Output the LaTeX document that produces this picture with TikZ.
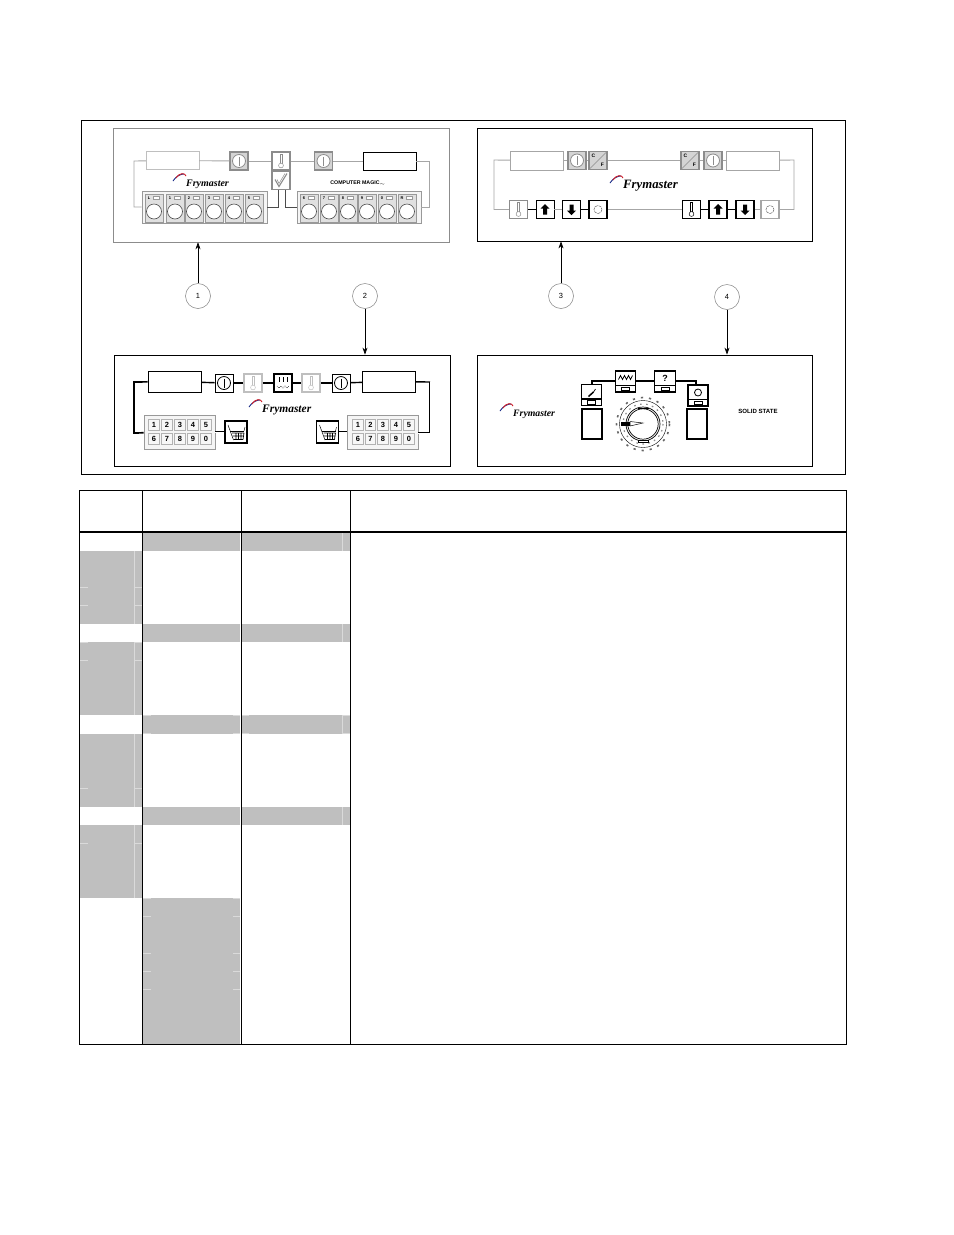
\documentclass[tikz,border=0pt]{standalone}
\usepackage{fontspec}
\setmainfont{Liberation Sans}
\newfontfamily\logofont{Liberation Serif}
\usetikzlibrary{shapes,arrows,arrows.meta,positioning}

\definecolor{TableGray}{HTML}{BFBFBF}
\definecolor{TickGray}{HTML}{DADADA}
\definecolor{WireGray}{HTML}{A6A6A6}
\definecolor{KeyGray}{HTML}{D4D4D4}
\definecolor{SwooshRed}{HTML}{D0202A}
\definecolor{SwooshBlue}{HTML}{20308A}

\tikzset{
	Power/.style={path picture={
		\draw[shift={(path picture bounding box.center)}, fill=white, line width=0.8] (0,0) circle (6.5);
		\draw[shift={(path picture bounding box.center)}, line width=0.8] (0,-4.5) -- (0,4.5);}},
	Thermo/.style={path picture={
		\draw[shift={(path picture bounding box.center)}, line width=0.5, fill=white] (-1,3) -- (-1,-7) -- (1,-7) -- (1,3);
		\draw[shift={(path picture bounding box.center)}, line width=0.5, fill=white] (0,4.5) circle (2.4);}},
	Check/.style={path picture={
		\draw[shift={(path picture bounding box.center)}, line width=1.1] (-6,-1) -- (-2,6) -- (6,-7);
		\draw[shift={(path picture bounding box.center)}, line width=0.5] (-4,-1) -- (-2,3) -- (4,-7);}},
	CF/.style={path picture={
		\draw[shift={(path picture bounding box.center)}, line width=0.6] (-8,8) -- (8,-8);
		\path[shift={(path picture bounding box.center)}] (-4.5,-4.5) node[font=\fontsize{5}{5}\selectfont\bfseries, inner sep=0pt] {C};
		\path[shift={(path picture bounding box.center)}] (4.5,4.5) node[font=\fontsize{5}{5}\selectfont\bfseries, inner sep=0pt] {F};}},
	UpMark/.style={path picture={
		\fill[shift={(path picture bounding box.center)}, black] (0,-5.5) -- (4.5,-1) -- (2,-1) -- (2,5) -- (-2,5) -- (-2,-1) -- (-4.5,-1) -- cycle;}},
	DownMark/.style={path picture={
		\fill[shift={(path picture bounding box.center)}, black] (0,5.5) -- (4.5,1) -- (2,1) -- (2,-5) -- (-2,-5) -- (-2,1) -- (-4.5,1) -- cycle;}},
	Cycle/.style={path picture={
		\draw[shift={(path picture bounding box.center)}, line width=0.5, black!60, dash pattern=on 3pt off 0.8pt] (0,0) circle (4);}},
	Melt/.style={path picture={
		\draw[shift={(path picture bounding box.center)}, line width=0.7] (-4,-6) -- (-4,-1) (0,-6) -- (0,-1) (4,-6) -- (4,-1);
		\draw[shift={(path picture bounding box.center)}, line width=0.6, densely dotted] (-6,3) -- (-4,5) -- (-2,3) -- (0,5) -- (2,3) -- (4,5) -- (6,3);}},
	Basket/.style={path picture={
		\draw[shift={(path picture bounding box.center)}, xscale=#1, line width=0.5] (-8,-7) -- (-2.5,8);
		\draw[shift={(path picture bounding box.center)}, xscale=#1, line width=0.5] (-6,-1) -- (8,-1);
		\draw[shift={(path picture bounding box.center)}, xscale=#1, line width=0.7] (-4,1) -- (8,1) (-3.5,4) -- (7.5,4) (-2.5,7.5) -- (7,7.5) (8,1) -- (7,7.5) (0,1) -- (0,7.5) (2.5,1) -- (2.5,7.5) (5,1) -- (5,7.5);
		\draw[shift={(path picture bounding box.center)}, xscale=#1, line width=0.4] (8,-1) -- (9,-5);}},
	Lamp/.style={path picture={
		\draw[shift={(path picture bounding box.center)}, line width=1.2] (-11,4) -- (11,4);
		\draw[shift={(path picture bounding box.center)}, line width=0.9, fill=white] (-4,5.5) rectangle (4,9);
		#1}}
}

\begin{document}
\begin{tikzpicture}[x=1bp, y=-1bp]
	\tikzstyle{Frame}	= [draw, line width=0.8, minimum height=0pt, inner sep=0pt]
	\tikzstyle{Display}	= [rectangle, draw, fill=white, inner sep=0pt, minimum width=53bp, minimum height=18bp]
	\tikzstyle{Key}		= [rectangle, draw=black!45, line width=1.2, fill=KeyGray, inner sep=0pt, minimum size=18bp]
	\tikzstyle{Bold}	= [draw=black, line width=1.6, fill=white]
	\tikzstyle{Plain}	= [draw=black, line width=0.8, fill=white]
	\tikzstyle{Wire}	= [WireGray, line width=0.9]
	\tikzstyle{BlackWire}	= [black, line width=1.4]
	\tikzstyle{DoubleWire}	= [white, line width=0.9, preaction={draw=black, line width=2.4}]
	\tikzstyle{Pad}		= [rectangle, draw=black!40, line width=0.7, fill=black!4, inner sep=0pt]
	\tikzstyle{Cell}	= [rectangle, draw=black!40, line width=0.5, fill=black!12, inner sep=0pt, minimum width=18bp, minimum height=28bp]
	\tikzstyle{Push}	= [circle, draw=black!70, line width=0.6, fill=white, inner sep=0pt, minimum size=15bp]
	\tikzstyle{Num}		= [rectangle, draw=black!30, line width=0.6, fill=black!3, inner sep=0pt, minimum size=10.5bp, font=\fontsize{7.5}{8}\selectfont\bfseries]
	\tikzstyle{Tiny}	= [inner sep=0pt, font=\fontsize{4}{4}\selectfont\bfseries]
	\tikzstyle{Logo}	= [anchor=west, inner sep=0pt, font=\logofont\fontsize{10}{10}\selectfont\bfseries\itshape]
	\tikzstyle{Callout}	= [circle, draw=gray, line width=0.5, fill=white, inner sep=0pt, minimum size=25bp, font=\fontsize{7.5}{8}\selectfont]
	\tikzstyle{Lead}	= [-{Stealth[length=7bp,width=5bp]}, black, line width=0.6]
	\tikzstyle{Solid}	= [rectangle, draw=black, line width=1.7, fill=white, inner sep=0pt]
	\tikzstyle{Cover}	= [TableGray]
	\tikzstyle{Tick}	= [TickGray, line width=0.7]
	\tikzstyle{Rule}	= [black, line width=1.1]

	\useasboundingbox (0,0) rectangle (954,1235);
	\fill[white] (0,0) rectangle (954,1235);

	% outer frame and the four panels
	\node (frame) at (463,297) [Frame, minimum width=764bp, minimum height=354bp] {};
	\node (panelA) at (281,185) [Frame, draw=black!45, line width=0.6, minimum width=336bp, minimum height=114bp] {};
	\node (panelB) at (282,410.5) [Frame, minimum width=336bp, minimum height=111bp] {};
	\node (panelC) at (644.5,184.5) [Frame, minimum width=335bp, minimum height=113bp] {};
	\node (panelD) at (644.5,410.5) [Frame, minimum width=335bp, minimum height=111bp] {};

	% panel 1
	\node (dispA1) at (172.5,160.5) [Display, draw=TableGray] {};
	\node (dispA2) at (389.5,161) [Display, line width=0.8] {};
	\node (powA1) at (239,161) [Key, Power] {};
	\node (powA2) at (323.5,161) [Key, Power] {};
	\node (therA) at (281,161) [Key, fill=white, Thermo] {};
	\node (checkA) at (281,180.5) [Key, fill=white, Check] {};
	\node (padA1) at (204.5,207) [Pad, minimum width=125bp, minimum height=32bp] {};
	\node (padA2) at (359,207) [Pad, minimum width=124bp, minimum height=32bp] {};
	\foreach \x/\t [count=\i] in {154/L,175/1,194/2,214/3,234/4,254/5} {
		\node (cellA\i) at (\x,208) [Cell] {};
		\node (pushA\i) at (\x,211.5) [Push] {};
		\node (numA\i) at (\x-5,198) [Tiny] {\t};
		\node (lampA\i) at (\x+2,198) [Pad, fill=white, minimum width=6bp, minimum height=3bp] {};
	}
	\foreach \x/\t [count=\i] in {309/6,329/7,348/8,367/9,387/0,407/R} {
		\node (cellB\i) at (\x,208) [Cell] {};
		\node (pushB\i) at (\x,211.5) [Push] {};
		\node (numB\i) at (\x-5,198) [Tiny] {\t};
		\node (lampB\i) at (\x+2,198) [Pad, fill=white, minimum width=6bp, minimum height=3bp] {};
	}
	\coordinate (cornA1) at (134,161);
	\coordinate (cornA2) at (134,207);
	\coordinate (cornA3) at (429,161);
	\coordinate (cornA4) at (429,207);
	\coordinate (dropA1) at (278,207);
	\coordinate (dropA2) at (285,207);
	\draw [Wire] (dispA1) -- (powA1);
	\draw [Wire] (powA1) -- (therA);
	\draw [Wire] (therA) -- (powA2);
	\draw [Wire] (powA2) -- (dispA2);
	\draw [Wire] (dispA1) -- (cornA1) -- (cornA2) -- (padA1);
	\draw [Wire] (dispA2) -- (cornA3) -- (cornA4) -- (padA2);
	\draw [Wire, black!70] (checkA.south -| dropA1) -- (dropA1) -- (padA1.east |- dropA1);
	\draw [Wire, black!70] (checkA.south -| dropA2) -- (dropA2) -- (padA2.west |- dropA2);
	\node (logoA) at (186,184) [Logo] {Frymaster};
	\node (magicA) at (358,183) [inner sep=0pt, font=\fontsize{5.3}{6}\selectfont\bfseries] {COMPUTER MAGIC$_{\scriptscriptstyle\sim}$};

	% panel 2
	\node (dispB1) at (174.5,381.5) [Display, line width=0.9, minimum height=21bp] {};
	\node (dispB2) at (389,381.5) [Display, line width=0.9, minimum height=21bp] {};
	\node (powB1) at (224,383) [Key, Plain, Power] {};
	\node (therB1) at (253,383) [Key, draw=TableGray, line width=2, fill=white, Thermo] {};
	\node (meltB) at (283,383) [Key, Bold, Melt] {};
	\node (therB2) at (311,383) [Key, draw=TableGray, line width=2, fill=white, Thermo] {};
	\node (powB2) at (341,383) [Key, Plain, Power] {};
	\node (padB1) at (179.5,432) [Pad, minimum width=71bp, minimum height=34bp] {};
	\node (padB2) at (382.5,432) [Pad, minimum width=71bp, minimum height=34bp] {};
	\foreach \x [count=\i] in {154,167,180,193,206} {
		\node (numC\i) at (\x,425) [Num] {\i};
	}
	\foreach \x/\t [count=\i] in {154/6,167/7,180/8,193/9,206/0} {
		\node (numD\i) at (\x,439) [Num] {\t};
	}
	\foreach \x [count=\i] in {358,370.5,383,396,409} {
		\node (numE\i) at (\x,425) [Num] {\i};
	}
	\foreach \x/\t [count=\i] in {358/6,370.5/7,383/8,396/9,409/0} {
		\node (numF\i) at (\x,439) [Num] {\t};
	}
	\node (basketB1) at (236,432) [Solid, minimum size=22bp, Basket=1] {};
	\node (basketB2) at (327.5,432) [Solid, minimum size=22bp, Basket=-1] {};
	\coordinate (cornB1) at (134,382);
	\coordinate (cornB2) at (134,433);
	\coordinate (cornB3) at (430,382);
	\coordinate (cornB4) at (430,433);
	\draw [BlackWire] (dispB1) -- (powB1);
	\draw [BlackWire] (powB1) -- (therB1);
	\draw [BlackWire] (therB1) -- (meltB);
	\draw [BlackWire] (meltB) -- (therB2);
	\draw [BlackWire] (therB2) -- (powB2);
	\draw [BlackWire] (powB2) -- (dispB2);
	\draw [BlackWire, line width=1.7] (dispB1) -- (cornB1) -- (cornB2) -- (padB1);
	\draw [BlackWire] (dispB2) -- (cornB3);
	\draw [DoubleWire] (cornB3) -- (cornB4) -- (padB2.east |- cornB4);
	\draw [DoubleWire] (padB1.east |- basketB1) -- (basketB1.west);
	\draw [DoubleWire] (basketB2.east) -- (padB2.west |- basketB2);
	\node (logoB) at (262,410) [Logo, font=\logofont\fontsize{11.5}{11}\selectfont\bfseries\itshape] {Frymaster};

	% panel 3
	\node (dispC1) at (537,160.5) [Display, draw=WireGray, minimum height=19bp] {};
	\node (dispC2) at (753,160.5) [Display, draw=WireGray, minimum height=19bp] {};
	\node (powC1) at (577,160.5) [Key, Power] {};
	\node (cfC1) at (598,160.5) [Key, CF] {};
	\node (cfC2) at (690,160.5) [Key, CF] {};
	\node (powC2) at (713,160.5) [Key, Power] {};
	\node (therC1) at (518.5,209.5) [Key, fill=white, Thermo] {};
	\node (upC1) at (545,209.5) [Key, Plain, UpMark] {};
	\node (downC1) at (571.5,209.5) [Key, Bold, DownMark] {};
	\node (rotC1) at (598,209.5) [Key, Bold, Cycle] {};
	\node (therC2) at (691.5,209.5) [Key, Bold, Thermo] {};
	\node (upC2) at (718,209.5) [Key, Bold, UpMark] {};
	\node (downC2) at (745,209.5) [Key, Bold, DownMark] {};
	\node (rotC2) at (770,209.5) [Key, fill=white, draw=WireGray, Cycle] {};
	\coordinate (cornC1) at (494,160);
	\coordinate (cornC2) at (494,209.5);
	\coordinate (cornC3) at (794,160);
	\coordinate (cornC4) at (794,209.5);
	\draw [Wire] (dispC1) -- (powC1);
	\draw [Wire] (powC1) -- (cfC1);
	\draw [Wire] (cfC1) -- (cfC2);
	\draw [Wire] (cfC2) -- (powC2);
	\draw [Wire] (powC2) -- (dispC2);
	\draw [Wire] (dispC1) -- (cornC1) -- (cornC2) -- (therC1);
	\draw [Wire] (dispC2) -- (cornC3) -- (cornC4) -- (rotC2);
	\draw [BlackWire] (therC1) -- (upC1);
	\draw [Wire] (upC1) -- (downC1);
	\draw [BlackWire] (downC1) -- (rotC1);
	\draw [Wire] (rotC1) -- (therC2);
	\draw [BlackWire] (therC2) -- (upC2);
	\draw [BlackWire] (upC2) -- (downC2);
	\draw [Wire] (downC2) -- (rotC2);
	\node (logoC) at (623,186) [Logo, font=\logofont\fontsize{12.8}{12}\selectfont\bfseries\itshape] {Frymaster};

	% panel 4
	\node (lampD1) at (591.5,395) [Solid, minimum width=20bp, minimum height=21bp, Lamp={
		\draw[shift={(path picture bounding box.center)}, line width=1.5] (-3,1.5) -- (2,-3);
		\draw[shift={(path picture bounding box.center)}, line width=0.7] (2,-3) -- (4,-6);}] {};
	\node (lampD2) at (625.5,381.5) [Solid, minimum width=20bp, minimum height=21bp, Lamp={
		\draw[shift={(path picture bounding box.center)}, line width=0.8] (-7,-2) -- (-5,-6) -- (-3,-2) -- (-1,-6) -- (1,-2) -- (3,-6) -- (5,-2) -- (7,-6);}] {};
	\node (lampD3) at (665,381.5) [Solid, minimum width=21bp, minimum height=21bp, Lamp={
		\path[shift={(path picture bounding box.center)}] (0,-3) node[inner sep=0pt, font=\fontsize{9}{9}\selectfont\bfseries] {?};}] {};
	\node (lampD4) at (698,395.5) [Solid, minimum width=20bp, minimum height=21bp, Lamp={
		\draw[shift={(path picture bounding box.center)}, line width=0.8] (0,-3) circle (3.5);}] {};
	\node (showD1) at (592,424) [Solid, minimum width=20bp, minimum height=30bp] {};
	\node (showD2) at (697,424) [Solid, minimum width=20bp, minimum height=30bp] {};
	\coordinate (cornD1) at (592,381);
	\coordinate (cornD2) at (696,381);
	\draw [BlackWire] (lampD1.north -| cornD1) -- (cornD1) -- (lampD2.west |- cornD1);
	\draw [BlackWire] (lampD2.east |- cornD1) -- (lampD3.west |- cornD1);
	\draw [BlackWire] (lampD3.east |- cornD2) -- (cornD2) -- (lampD4.north -| cornD2);
	\node (ringD) at (643,424) [circle, draw=black, line width=0.4, inner sep=0pt, minimum size=47bp] {};
	\node (dialD) at (643,424) [circle, draw=black, line width=0.7, fill=white, inner sep=0pt, minimum size=34bp] {};
	\coordinate (midD) at (643,424);
	\draw [black, line width=0.7] (midD) circle (15.2);
	\draw [black!60, line width=1.6, dash pattern=on 2.2pt off 6pt] (midD) circle (26.5);
	\draw [black!45, line width=1.2, dash pattern=on 1.6pt off 4.5pt] (midD) circle (20);
	\draw [fill=white, line width=0.5] (643,423) -- (630,421.5) -- (630,426) -- cycle;
	\fill [black] (621,422) rectangle (630,426);
	\fill [black] (638,407.5) rectangle (649,409);
	\draw [fill=white, line width=0.8] (638,440) rectangle (648,442);
	\node (logoD) at (513,414) [Logo, font=\logofont\fontsize{9.8}{9}\selectfont\bfseries\itshape] {Frymaster};
	\node (solidD) at (758,411) [inner sep=0pt, font=\fontsize{6.1}{7}\selectfont\bfseries] {SOLID STATE};

	% swoosh beside each logo
	\foreach \l in {logoA,logoB,logoC,logoD} {
		\draw [SwooshBlue, line width=0.9] ([shift={(-13,-3)}]\l.west) .. controls ([shift={(-10,-8)}]\l.west) and ([shift={(-5,-10)}]\l.west) .. ([shift={(-2,-10)}]\l.west);
		\draw [SwooshRed, line width=0.9] ([shift={(-10,-6)}]\l.west) .. controls ([shift={(-6,-12)}]\l.west) and ([shift={(-1,-11)}]\l.west) .. ([shift={(0,-8)}]\l.west);
	}

	% numbered callouts
	\node (one) at (198,296) [Callout] {1};
	\node (two) at (365,296) [Callout] {2};
	\node (three) at (561,296) [Callout] {3};
	\node (four) at (727,297) [Callout] {4};
	\draw [Lead] (one) -- (panelA.south -| one);
	\draw [Lead] (two) -- (panelB.north -| two);
	\draw [Lead] (three) -- (panelC.south -| three);
	\draw [Lead] (four) -- (panelD.north -| four);

	% table shading
	\foreach \a/\b in {551/624,642/715,734/807,825/898} {
		\fill [Cover] (80,\a) rectangle (142,\b);
		\draw [Tick] (134.5,\a) -- (134.5,\b);
	}
	\foreach \a/\b in {532/551,624/642,715/734,807/825} {
		\fill [Cover] (143,\a) rectangle (240,\b);
		\fill [Cover] (242,\a) rectangle (350,\b);
		\draw [Tick] (342.5,\a) -- (342.5,\b);
	}
	\fill [Cover] (143,898) rectangle (240,1044);
	\foreach \y in {587.5,605.5,642.5,660.5,788.5,843.5} {
		\draw [Tick] (80,\y) -- (88,\y);
		\draw [Tick] (134,\y) -- (142,\y);
	}
	\foreach \y in {715.5,733.5,898.5,916.5,953.5,971.5,989.5} {
		\draw [Tick] (143,\y) -- (151,\y);
		\draw [Tick] (233,\y) -- (240,\y);
	}
	\foreach \y in {715.5,733.5} {
		\draw [Tick] (242,\y) -- (249,\y);
		\draw [Tick] (342,\y) -- (350,\y);
	}

	% table rules
	\draw [Rule] (79.5,490.5) rectangle (846.5,1044.5);
	\draw [Rule] (142.5,490.5) -- (142.5,1044.5);
	\draw [Rule] (241.5,490.5) -- (241.5,1044.5);
	\draw [Rule] (350.5,490.5) -- (350.5,1044.5);
	\draw [black, line width=2] (79,532) -- (847,532);
\end{tikzpicture}
\end{document}
